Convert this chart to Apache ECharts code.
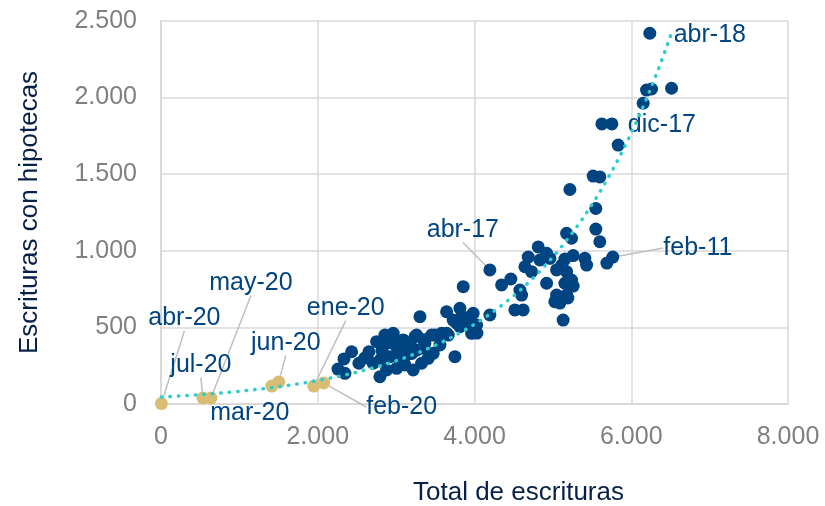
<!DOCTYPE html>
<html>
<head>
<meta charset="utf-8">
<script src="https://cdn.jsdelivr.net/npm/echarts@6/dist/echarts.min.js"></script>
<style>
  html, body { margin: 0; padding: 0; background: #fff; }
  #chart { width: 825px; height: 506px; }
</style>
</head>
<body>
<div id="chart"></div>
<script>
// labelled points come first in each list
const navyNames = ['abr-18', 'dic-17', 'feb-11', 'abr-17'];
const navyX = [
  6237, 5753, 5765, 4196,
  6195, 6259, 6514, 6152, 5625, 5833, 5514, 5599, 5217, 5548, 5548, 5175,
  5238, 5599, 5689, 4813, 4685, 4920, 4962, 5153, 5259, 5408, 5430, 4834,
  4643, 4728, 4464, 4346, 4579, 4601, 4515, 4621, 4196, 4920, 5047, 5115,
  5175, 5238, 5259, 5047, 5175, 5089, 5131, 5025, 5191, 5153, 3983, 4027,
  3856, 3814, 3644, 3835, 4031, 3899, 3772, 3750, 3665, 3580, 3559, 3495,
  3304, 3473, 3409, 3346, 3367, 3261, 3261, 3325, 3218, 3134, 3091, 3006,
  3006, 2963, 2921, 2879, 2857, 2819, 2793, 2751, 2708, 2653, 2525, 2432,
  2334, 2347, 2258, 3728, 3814, 3941, 3963, 3240, 3453, 3644, 3048, 3176,
  2895, 3112, 2950, 3200, 2800, 3050, 3350, 2600
];
const navyY = [
  2420, 1828, 959, 875,
  2049, 2056, 2061, 1963, 1828, 1690, 1488, 1482, 1400, 1276, 1142, 1114,
  1082, 1059, 920, 1025, 959, 984, 951, 946, 969, 951, 907, 940,
  896, 864, 816, 777, 744, 711, 614, 614, 581, 788, 875, 907,
  864, 809, 770, 711, 711, 659, 548, 668, 692, 788, 592, 516,
  766, 625, 602, 570, 463, 516, 527, 309, 450, 461, 385, 450,
  570, 331, 298, 364, 396, 450, 352, 266, 222, 320, 418, 372,
  233, 461, 309, 222, 450, 346, 178, 407, 266, 341, 266, 341,
  294, 200, 228, 548, 505, 570, 461, 439, 450, 461, 287, 385,
  398, 255, 400, 330, 290, 350, 420, 300
];

const tanNames = ['abr-20', 'jul-20', 'may-20', 'mar-20', 'jun-20', 'ene-20', 'feb-20'];
const tanX = [5, 535, 637, 1414, 1503, 1949, 2076];
const tanY = [3, 39, 39, 117, 144, 117, 137];

// where each label sits relative to its point (px), and whether it gets a leader line
const labelOffset = {
  'abr-18': [60, 2, false],
  'dic-17': [50, 1, false],
  'feb-11': [85, -9, true],
  'abr-17': [-27, -40, true],
  'abr-20': [23, -85, true],
  'jul-20': [-2, -33, true],
  'may-20': [40, -115, true],
  'mar-20': [-22, 27, false],
  'jun-20': [7, -39, true],
  'ene-20': [32, -78, true],
  'feb-20': [78, 24, true]
};

function fmt(v) {
  return String(v).replace(/\B(?=(\d{3})+(?!\d))/g, '.');
}

function makeData(xs, ys, names) {
  return xs.map((x, i) => {
    const item = { value: [x, ys[i]] };
    if (names[i]) {
      item.name = names[i];
      item.label = { show: true };
      item.labelLine = { show: labelOffset[names[i]][2] };
    }
    return item;
  });
}

// exponential trend line (least squares on ln y), like the spreadsheet one
const allX = navyX.concat(tanX);
const allY = navyY.concat(tanY);
let n = allX.length, sx = 0, sy = 0, sxx = 0, sxy = 0;
allX.forEach((x, i) => {
  const ly = Math.log(allY[i]);
  sx += x; sy += ly; sxx += x * x; sxy += x * ly;
});
const b = (n * sxy - sx * sy) / (n * sxx - sx * sx);
const a = Math.exp((sy - b * sx) / n);
const xMin = Math.min(...allX), xMax = Math.max(...allX);
const trend = [];
for (let i = 0; i <= 120; i++) {
  const x = xMin + (xMax - xMin) * i / 120;
  trend.push([x, a * Math.exp(b * x)]);
}

const font = 'Liberation Sans, Arial, sans-serif';
const labelStyle = {
  position: 'inside',
  formatter: '{b}',
  color: '#004481',
  fontSize: 25,
  fontFamily: font
};
const moveLabel = (p) => {
  const o = labelOffset[p.text];
  return o ? { dx: o[0], dy: o[1] } : {};
};

const myChart = echarts.init(document.getElementById('chart'));
myChart.setOption({
  animation: false,
  grid: { left: 161, top: 21, right: 37, bottom: 102, outerBoundsMode: 'none', containLabel: false },
  xAxis: {
    type: 'value',
    min: 0,
    max: 8000,
    interval: 2000,
    name: 'Total de escrituras',
    nameLocation: 'middle',
    nameGap: 76,
    nameTextStyle: { color: '#072146', fontSize: 26, fontFamily: font, padding: [0, 0, 0, 88] },
    axisLine: { lineStyle: { color: '#d9d9d9', width: 2 } },
    axisTick: { show: false },
    axisLabel: { formatter: fmt, color: '#808080', fontSize: 25, margin: 21, fontFamily: font },
    splitLine: { lineStyle: { color: '#d9d9d9', width: 1.5 } }
  },
  yAxis: {
    type: 'value',
    min: 0,
    max: 2500,
    interval: 500,
    name: 'Escrituras con hipotecas',
    nameLocation: 'middle',
    nameGap: 118,
    nameTextStyle: { color: '#072146', fontSize: 26, fontFamily: font },
    axisLine: { show: true, lineStyle: { color: '#d9d9d9', width: 2 } },
    axisTick: { show: false },
    axisLabel: { formatter: fmt, color: '#808080', fontSize: 25, margin: 24, fontFamily: font },
    splitLine: { lineStyle: { color: '#d9d9d9', width: 1.5 } }
  },
  series: [
    {
      name: 'Total',
      type: 'scatter',
      symbolSize: 13,
      itemStyle: { color: '#004481', opacity: 1 },
      label: labelStyle,
      labelLine: { lineStyle: { color: '#bfbfbf', width: 1.5 } },
      labelLayout: moveLabel,
      data: makeData(navyX, navyY, navyNames),
      z: 2
    },
    {
      name: '2020',
      type: 'scatter',
      symbolSize: 13,
      itemStyle: { color: '#d8be75', opacity: 1 },
      label: labelStyle,
      labelLine: { lineStyle: { color: '#bfbfbf', width: 1.5 } },
      labelLayout: moveLabel,
      data: makeData(tanX, tanY, tanNames),
      z: 3
    },
    {
      name: 'Tendencia',
      type: 'line',
      showSymbol: false,
      silent: true,
      lineStyle: { color: '#2dcccd', width: 3.5, type: [0.5, 8], cap: 'round' },
      data: trend,
      z: 4
    }
  ]
});
</script>
</body>
</html>
